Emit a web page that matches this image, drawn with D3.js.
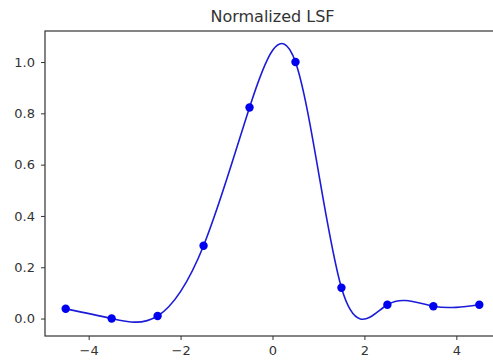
<!DOCTYPE html>
<html>
<head>
<meta charset="utf-8">
<script src="https://cdn.jsdelivr.net/npm/d3@7"></script>
<style>
  body { margin: 0; background: #fff; }
  svg text { font-family: "DejaVu Sans", sans-serif; fill: #333; }
</style>
</head>
<body>
<div id="chart"></div>
<script>
// sample positions and normalized LSF values
const xValues = [-4.5, -3.5, -2.5, -1.5, -0.5, 0.5, 1.5, 2.5, 3.5, 4.5];
const lsfValues = [0.038, 0.0, 0.01, 0.284, 0.823, 1.0, 0.12, 0.054, 0.048, 0.054];
const xTicks = [-4, -2, 0, 2, 4];
const yTicks = [0.0, 0.2, 0.4, 0.6, 0.8, 1.0];
const title = "Normalized LSF";

const W = 493, H = 360;
const margin = { top: 31, right: -7, bottom: 24, left: 45 },
    width = W - margin.left - margin.right,
    height = H - margin.top - margin.bottom;

const data = xValues.map((x, i) => ({ x: x, y: lsfValues[i] }));

var svg = d3.select("#chart")
    .append("svg")
    .attr("width", W)
    .attr("height", H);

var xScale = d3.scaleLinear().domain([-4.95, 4.95]).range([0, width]),
    yScale = d3.scaleLinear().domain([-0.068, 1.121]).range([height, 0]);

var g = svg.append("g")
    .attr("transform", "translate(" + margin.left + "," + margin.top + ")");

// smooth curve through the samples
g.append("path")
    .datum(data)
    .attr("fill", "none")
    .attr("stroke", "#1c1cd8")
    .attr("stroke-width", 1.6)
    .attr("d", d3.line()
        .x(d => xScale(d.x))
        .y(d => yScale(d.y))
        .curve(d3.curveNatural));

g.selectAll(".pt")
    .data(data)
    .enter().append("circle")
    .attr("class", "pt")
    .attr("cx", d => xScale(d.x))
    .attr("cy", d => yScale(d.y))
    .attr("r", 4.2)
    .attr("fill", "#0000f0");

// axes
var xAxis = g.append("g")
    .attr("transform", "translate(0," + height + ")")
    .call(d3.axisBottom(xScale).tickValues(xTicks).tickSize(4).tickPadding(6)
        .tickFormat(d => d < 0 ? "\u2212" + Math.abs(d) : d));

var yAxis = g.append("g")
    .call(d3.axisLeft(yScale).tickValues(yTicks).tickSize(4).tickPadding(6)
        .tickFormat(d3.format(".1f")));

[xAxis, yAxis].forEach(a => {
    a.select(".domain").remove();
    a.selectAll("line").attr("stroke", "#333");
    a.selectAll("text").attr("font-size", "13px").attr("fill", "#333");
});

// frame
g.append("rect")
    .attr("x", 0).attr("y", 0)
    .attr("width", width).attr("height", height)
    .attr("fill", "none")
    .attr("stroke", "#333")
    .attr("stroke-width", 1.2);

svg.append("text")
    .attr("x", margin.left + xScale(0))
    .attr("y", 22)
    .attr("text-anchor", "middle")
    .attr("font-size", "16px")
    .text(title);
</script>
</body>
</html>
